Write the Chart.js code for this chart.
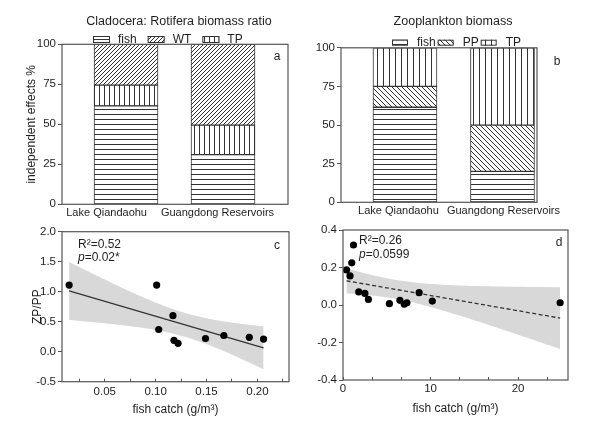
<!DOCTYPE html>
<html>
<head>
<meta charset="utf-8">
<script src="https://cdn.jsdelivr.net/npm/chart.js@4.4.1/dist/chart.umd.min.js"></script>
<style>
  html, body { margin: 0; padding: 0; background: #fff; }
  #wrap { position: relative; width: 599px; height: 433px; }
  canvas { position: absolute; left: 0; top: 0; width: 599px; height: 433px; }
</style>
</head>
<body>
<div id="wrap">
  <canvas id="chartA" width="599" height="433"></canvas>
  <canvas id="chartB" width="599" height="433"></canvas>
  <canvas id="chartC" width="599" height="433"></canvas>
  <canvas id="chartD" width="599" height="433"></canvas>
</div>
<script>
// bar panels (independent effects %)
const barCategories = ['Lake Qiandaohu', 'Guangdong Reservoirs'];
const pctTicks = [0, 25, 50, 75, 100];

// a: Cladocera : Rotifera biomass ratio
const ratioFish = [61.5, 31];
const ratioTP = [13, 18.5];
const ratioWT = [25.5, 50.5];

// b: Zooplankton biomass
const biomassFish = [61.5, 20];
const biomassPP = [13.5, 30];
const biomassTP = [25, 50];

// c: ZP/PP against fish catch
const catchC = [0.015, 0.101, 0.103, 0.117, 0.118, 0.122, 0.149, 0.167, 0.192, 0.206];
const zpppC = [1.11, 1.11, 0.37, 0.60, 0.19, 0.14, 0.22, 0.27, 0.24, 0.21];
const catchTicksC = [0.05, 0.10, 0.15, 0.20];
const zpppTicks = [-0.5, 0, 0.5, 1.0, 1.5, 2.0];

// d: zooplankton biomass against fish catch
const catchD = [0.4, 0.8, 1.0, 1.2, 1.8, 2.5, 2.9, 5.3, 6.5, 7.0, 7.3, 8.7, 10.2, 24.8];
const zooD = [0.187, 0.155, 0.225, 0.32, 0.07, 0.062, 0.03, 0.007, 0.025, 0.004, 0.012, 0.066, 0.021, 0.012];
const catchTicksD = [0, 10, 20];
const zooTicks = [-0.4, -0.2, 0, 0.2, 0.4];

// two-sided 95% t values by degrees of freedom
const T975 = { 8: 2.306, 12: 2.179 };

const FONT = '"Liberation Sans", Arial, Helvetica, sans-serif';
Chart.defaults.font.family = FONT;
Chart.defaults.color = '#1e1e1e';
Chart.defaults.animation = false;
Chart.defaults.responsive = false;
Chart.defaults.plugins.legend.display = false;
Chart.defaults.plugins.tooltip.enabled = false;

const fixW = w => s => { s.width = w; };
const fixH = h => s => { s.height = h; };
const near = (a, b) => Math.abs(a - b) < 1e-9;

function hatch(ctx, kind, n) {
  const c = document.createElement('canvas');
  c.width = n; c.height = n;
  const g = c.getContext('2d');
  g.fillStyle = '#fff';
  g.fillRect(0, 0, n, n);
  g.strokeStyle = '#333';
  g.lineWidth = 1;
  g.beginPath();
  if (kind === 'h') { g.moveTo(0, n - 0.5); g.lineTo(n, n - 0.5); }
  if (kind === 'v') { g.moveTo(n - 0.5, 0); g.lineTo(n - 0.5, n); }
  if (kind === '/') {
    g.moveTo(0, n); g.lineTo(n, 0);
    g.moveTo(-1, 1); g.lineTo(1, -1);
    g.moveTo(n - 1, n + 1); g.lineTo(n + 1, n - 1);
  }
  if (kind === '\\') {
    g.moveTo(0, 0); g.lineTo(n, n);
    g.moveTo(n - 1, -1); g.lineTo(n + 1, 1);
    g.moveTo(-1, n - 1); g.lineTo(1, n + 1);
  }
  g.stroke();
  return ctx.createPattern(c, 'repeat');
}

// frame, titles, letters and legends
const decor = {
  id: 'decor',
  afterDraw(chart, args, opts) {
    const { ctx, chartArea: a } = chart;
    ctx.save();
    ctx.strokeStyle = '#555';
    ctx.lineWidth = 1.2;
    ctx.strokeRect(a.left, a.top, a.right - a.left, a.bottom - a.top);
    ctx.fillStyle = '#1e1e1e';
    ctx.textBaseline = 'middle';
    (opts.texts || []).forEach(t => {
      const parts = t.parts || [{ text: t.text }];
      const size = t.size || 12;
      let x = t.x;
      if (t.align === 'center') {
        ctx.font = `${size}px ${FONT}`;
        x -= ctx.measureText(parts.map(p => p.text).join('')).width / 2;
      }
      ctx.textAlign = 'left';
      parts.forEach(p => {
        ctx.font = `${p.italic ? 'italic ' : ''}${size}px ${FONT}`;
        ctx.fillText(p.text, x, t.y);
        x += ctx.measureText(p.text).width;
      });
    });
    const lg = opts.legend;
    if (lg) {
      let x = lg.x;
      ctx.font = `12px ${FONT}`;
      ctx.lineWidth = 1;
      ctx.strokeStyle = '#333';
      lg.items.forEach(i => {
        const ds = chart.data.datasets[i];
        ctx.fillStyle = ds.backgroundColor;
        ctx.fillRect(x, lg.y - lg.h / 2, lg.w, lg.h);
        ctx.strokeRect(x + 0.5, lg.y - lg.h / 2 + 0.5, lg.w - 1, lg.h - 1);
        x += lg.w + lg.textGap;
        ctx.fillStyle = '#1e1e1e';
        ctx.fillText(ds.label, x, lg.y);
        x += ctx.measureText(ds.label).width + lg.itemGap;
      });
    }
    ctx.restore();
  }
};

function barChart(id, sets, box, extra) {
  const ctx = document.getElementById(id).getContext('2d');
  return new Chart(ctx, {
    type: 'bar',
    data: {
      datasets: sets.map(s => ({
        label: s.label,
        data: s.values.map((v, i) => ({ x: i, y: v })),
        backgroundColor: hatch(ctx, s.kind, s.step),
        borderColor: '#333',
        borderWidth: 1,
        borderSkipped: false,
        barThickness: 64
      }))
    },
    options: {
      layout: { padding: box.padding },
      scales: {
        x: {
          type: 'linear', stacked: true, offset: false, min: box.xMin, max: box.xMax,
          // category labels sit slightly off the bar centres, as in the source figure
          afterBuildTicks: s => { s.ticks = barCategories.map((c, i) => ({ value: i + box.labelShift[i] })); },
          ticks: { callback: (v, i) => barCategories[i], padding: box.labelPad, font: { size: 11 }, maxRotation: 0, autoSkip: false },
          grid: { display: false, drawTicks: false, offset: false },
          border: { display: false },
          afterFit: fixH(20)
        },
        y: {
          stacked: true, min: 0, max: 100,
          afterBuildTicks: s => { s.ticks = pctTicks.map(v => ({ value: v })); },
          ticks: { padding: 2, font: { size: 11.5 } },
          grid: { drawOnChartArea: false, tickLength: 4, color: '#555' },
          border: { display: false },
          title: box.yTitle ? { display: true, text: box.yTitle, font: { size: 12 }, padding: 0 } : { display: false },
          afterFit: fixW(box.yWidth)
        }
      },
      plugins: { decor: extra }
    },
    plugins: [decor]
  });
}

function fitBand(xs, ys, steps) {
  const n = xs.length;
  const mx = xs.reduce((s, v) => s + v, 0) / n;
  const my = ys.reduce((s, v) => s + v, 0) / n;
  let sxx = 0, sxy = 0;
  xs.forEach((x, i) => { sxx += (x - mx) ** 2; sxy += (x - mx) * (ys[i] - my); });
  const b = sxy / sxx, a = my - b * mx;
  let sse = 0;
  xs.forEach((x, i) => { sse += (ys[i] - a - b * x) ** 2; });
  const s = Math.sqrt(sse / (n - 2));
  const t = T975[n - 2];
  const x0 = Math.min(...xs), x1 = Math.max(...xs);
  const upper = [], lower = [];
  for (let k = 0; k <= steps; k++) {
    const x = x0 + (x1 - x0) * k / steps;
    const h = t * s * Math.sqrt(1 / n + (x - mx) ** 2 / sxx);
    upper.push({ x, y: a + b * x + h });
    lower.push({ x, y: a + b * x - h });
  }
  return { line: [{ x: x0, y: a + b * x0 }, { x: x1, y: a + b * x1 }], upper, lower };
}

function scatterChart(id, xs, ys, box, extra) {
  const ctx = document.getElementById(id).getContext('2d');
  const fit = fitBand(xs, ys, 60);
  const minors = [];
  for (let v = box.tickStart; v <= box.xMax + 1e-9; v += box.tickStep) minors.push(v);
  return new Chart(ctx, {
    type: 'scatter',
    data: {
      datasets: [
        { data: xs.map((x, i) => ({ x, y: ys[i] })), backgroundColor: '#000', borderWidth: 0, pointRadius: 3.6 },
        { type: 'line', data: fit.line, borderColor: '#333', borderWidth: 1.3, borderDash: box.dash, pointRadius: 0, fill: false },
        { type: 'line', data: fit.upper, borderWidth: 0, pointRadius: 0, fill: false },
        { type: 'line', data: fit.lower, borderWidth: 0, pointRadius: 0, fill: '-1', backgroundColor: '#d8d8d8' }
      ]
    },
    options: {
      layout: { padding: box.padding },
      scales: {
        x: {
          type: 'linear', min: box.xMin, max: box.xMax,
          afterBuildTicks: s => { s.ticks = minors.map(v => ({ value: v })); },
          ticks: {
            callback: v => box.xLabels.some(t => near(t, v)) ? v.toFixed(box.xDigits) : '',
            padding: box.xPad, font: { size: 11.5 }, maxRotation: 0, autoSkip: false
          },
          grid: { drawOnChartArea: false, tickLength: -3, color: '#555' },
          border: { display: false },
          title: { display: true, text: 'fish catch (g/m³)', font: { size: 12 }, padding: 0 },
          afterFit: fixH(box.xHeight)
        },
        y: {
          min: box.yMin, max: box.yMax,
          afterBuildTicks: s => { s.ticks = box.yLabels.map(v => ({ value: v })); },
          ticks: { callback: v => (near(v, 0) ? 0 : v).toFixed(1), padding: 2, font: { size: 11.5 } },
          grid: { drawOnChartArea: false, tickLength: 4, color: '#555' },
          border: { display: false },
          title: box.yTitle ? { display: true, text: box.yTitle, font: { size: 12 }, padding: 0 } : { display: false },
          afterFit: fixW(box.yWidth)
        }
      },
      plugins: { decor: extra }
    },
    plugins: [decor]
  });
}

barChart('chartA', [
  { label: 'fish', values: ratioFish, kind: 'h', step: 5 },
  { label: 'TP', values: ratioTP, kind: 'v', step: 5 },
  { label: 'WT', values: ratioWT, kind: '/', step: 4 }
], {
  padding: { left: 24.5, right: 311, top: 44.3, bottom: 433 - 204.3 - 20 },
  xMin: -0.66, xMax: 1.67, labelShift: [-0.2, -0.057], labelPad: 2, yWidth: 37.5, yTitle: 'independent effects %'
}, {
  texts: [
    { text: 'Cladocera: Rotifera biomass ratio', x: 179, y: 21.7, align: 'center', size: 12.5 },
    { text: 'a', x: 277, y: 56.7, align: 'center' }
  ],
  legend: { x: 93, y: 39.5, w: 17, h: 7, textGap: 8, itemGap: 11, items: [0, 2, 1] }
});

barChart('chartB', [
  { label: 'fish', values: biomassFish, kind: 'h', step: 5 },
  { label: 'PP', values: biomassPP, kind: '\\', step: 5 },
  { label: 'TP', values: biomassTP, kind: 'v', step: 6 }
], {
  padding: { left: 311, right: 62, top: 47.8, bottom: 433 - 202.3 - 20 },
  xMin: -0.656, xMax: 1.354, labelShift: [-0.067, 0.01], labelPad: 2.5, yWidth: 30, yTitle: null
}, {
  texts: [
    { text: 'Zooplankton biomass', x: 453, y: 21.7, align: 'center', size: 12.5 },
    { text: 'b', x: 557, y: 61.7, align: 'center' }
  ],
  legend: { x: 392, y: 42.7, w: 16, h: 6, textGap: 9, itemGap: 2, items: [0, 1, 2] }
});

scatterChart('chartC', catchC, zpppC, {
  padding: { left: 30.5, right: 310, top: 231.7, bottom: 433 - 417.2 },
  xMin: 0.008, xMax: 0.231, tickStart: 0.025, tickStep: 0.025, xLabels: catchTicksC, xDigits: 2, xPad: 6, xHeight: 35.5,
  yMin: -0.5, yMax: 2.0, yLabels: zpppTicks, yWidth: 31.5, yTitle: 'ZP/PP', dash: []
}, {
  texts: [
    { text: 'c', x: 277, y: 245.7, align: 'center' },
    { text: 'R²=0.52', x: 78, y: 244.3 },
    { parts: [{ text: 'p', italic: true }, { text: '=0.02*' }], x: 78, y: 257.7 }
  ]
});

scatterChart('chartD', catchD, zooD, {
  padding: { left: 313, right: 31, top: 230, bottom: 433 - 415.5 },
  xMin: 0, xMax: 25.7, tickStart: 0, tickStep: 10 / 3, xLabels: catchTicksD, xDigits: 0, xPad: 5, xHeight: 35.5,
  yMin: -0.4, yMax: 0.4, yLabels: zooTicks, yWidth: 30, yTitle: null, dash: [4, 2.5]
}, {
  texts: [
    { text: 'd', x: 559, y: 242.3, align: 'center' },
    { text: 'R²=0.26', x: 359, y: 241 },
    { parts: [{ text: 'p', italic: true }, { text: '=0.0599' }], x: 359, y: 254.3 }
  ]
});
</script>
</body>
</html>
